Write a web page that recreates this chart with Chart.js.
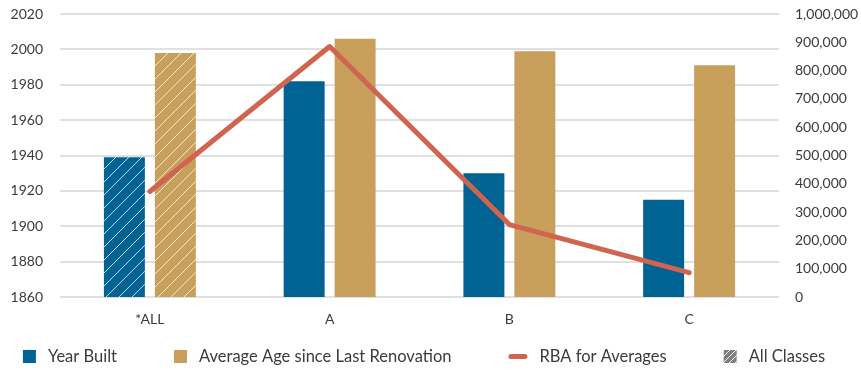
<!DOCTYPE html>
<html>
<head>
<meta charset="utf-8">
<script src="https://cdn.jsdelivr.net/npm/chart.js@4/dist/chart.umd.min.js"></script>
<style>
  html, body { margin: 0; padding: 0; background: #ffffff; }
  #wrap { width: 861px; height: 370px; position: relative; }
</style>
</head>
<body>
<div id="wrap"><canvas id="chart" width="861" height="370"></canvas></div>
<script>
// Categories and series
const categories = ['*ALL', 'A', 'B', 'C'];
const yearBuilt = [1939, 1982, 1930, 1915];
const renovationYear = [1998, 2006, 1999, 1991];
const rbaAverages = [373000, 885000, 256000, 86000];

// Series names
const seriesNames = ['Year Built', 'Average Age since Last Renovation', 'RBA for Averages', 'All Classes'];

const BLUE = '#006394';
const TAN = '#c8a05c';
const RED = '#d0644e';
const GREY = '#7f7f7f';
const TEXT = '#3b3b3b';
const FONT = 'Lato, "Open Sans", sans-serif';

// Diagonal white hatch on a base colour
function hatch(base, spacing, lineAlpha) {
  const c = document.createElement('canvas');
  c.width = spacing; c.height = spacing;
  const g = c.getContext('2d');
  g.fillStyle = base;
  g.fillRect(0, 0, spacing, spacing);
  g.strokeStyle = 'rgba(255,255,255,' + lineAlpha + ')';
  g.lineWidth = 1;
  g.beginPath();
  g.moveTo(0, spacing); g.lineTo(spacing, 0);
  g.moveTo(-2, 2); g.lineTo(2, -2);
  g.moveTo(spacing - 2, spacing + 2); g.lineTo(spacing + 2, spacing - 2);
  g.stroke();
  return g.createPattern(c, 'repeat');
}

const blueHatch = hatch(BLUE, 13, 0.75);
const tanHatch = hatch(TAN, 13, 0.75);
const greyHatch = hatch(GREY, 6, 0.9);

// First category (all classes) is hatched
const blueFills = categories.map((c, i) => i === 0 ? blueHatch : BLUE);
const tanFills = categories.map((c, i) => i === 0 ? tanHatch : TAN);

// Legend drawn under the plot
const bottomLegend = {
  id: 'bottomLegend',
  afterDraw(chart) {
    const ctx = chart.ctx;
    const items = [
      { text: seriesNames[0], kind: 'box', fill: BLUE },
      { text: seriesNames[1], kind: 'box', fill: TAN },
      { text: seriesNames[2], kind: 'line', fill: RED },
      { text: seriesNames[3], kind: 'box', fill: greyHatch }
    ];
    const gapMarker = 12, gapItem = 57, cy = 356.5;
    ctx.save();
    ctx.font = '16.5px ' + FONT;
    ctx.textBaseline = 'middle';
    ctx.textAlign = 'left';
    const widths = items.map(it => (it.kind === 'line' ? 19 : 13) + gapMarker + ctx.measureText(it.text).width);
    const total = widths.reduce((a, b) => a + b, 0) + gapItem * (items.length - 1);
    let x = 424 - total / 2;
    items.forEach((it, i) => {
      if (it.kind === 'line') {
        ctx.strokeStyle = it.fill;
        ctx.lineWidth = 5;
        ctx.lineCap = 'round';
        ctx.beginPath();
        ctx.moveTo(x + 2.5, cy);
        ctx.lineTo(x + 16.5, cy);
        ctx.stroke();
        x += 19;
      } else {
        ctx.fillStyle = it.fill;
        ctx.fillRect(x, cy - 6.5, 13, 13);
        x += 13;
      }
      x += gapMarker;
      ctx.fillStyle = TEXT;
      ctx.fillText(it.text, x, cy);
      x += ctx.measureText(it.text).width + gapItem;
    });
    ctx.restore();
  }
};

// Vertical axes: fixed width, no extra space reserved for end labels
function fixAxis(width) {
  return s => {
    s.width = width;
    s.paddingTop = 0;
    s.paddingBottom = 0;
  };
}

new Chart(document.getElementById('chart'), {
  type: 'bar',
  data: {
    labels: categories,
    datasets: [
      {
        type: 'line',
        label: seriesNames[2],
        data: rbaAverages,
        yAxisID: 'y1',
        borderColor: RED,
        backgroundColor: RED,
        borderWidth: 5,
        borderCapStyle: 'round',
        borderJoinStyle: 'round',
        pointRadius: 0,
        tension: 0,
        order: 0
      },
      {
        label: seriesNames[0],
        data: yearBuilt,
        yAxisID: 'y',
        backgroundColor: blueFills,
        categoryPercentage: 0.567,
        barPercentage: 0.804,
        order: 1
      },
      {
        label: seriesNames[1],
        data: renovationYear,
        yAxisID: 'y',
        backgroundColor: tanFills,
        categoryPercentage: 0.567,
        barPercentage: 0.804,
        order: 1
      }
    ]
  },
  options: {
    responsive: false,
    animation: false,
    events: [],
    layout: { padding: { top: 14, bottom: 33, left: 0, right: 0 } },
    plugins: {
      legend: { display: false },
      tooltip: { enabled: false }
    },
    scales: {
      x: {
        grid: { display: false },
        border: { display: false },
        ticks: { color: TEXT, font: { family: FONT, size: 14 }, padding: 6 },
        afterFit(s) { s.height = 40; s.paddingLeft = 0; s.paddingRight = 0; }
      },
      y: {
        position: 'left',
        min: 1860,
        max: 2020,
        ticks: {
          stepSize: 20,
          color: TEXT,
          font: { family: FONT, size: 14 },
          padding: 17,
          callback: v => String(v)
        },
        grid: { color: '#e0e0e0', lineWidth: 2, drawTicks: false },
        border: { display: false },
        afterFit: fixAxis(60)
      },
      y1: {
        position: 'right',
        min: 0,
        max: 1000000,
        ticks: {
          stepSize: 100000,
          color: TEXT,
          font: { family: FONT, size: 14 },
          padding: 16,
          callback: v => v.toLocaleString('en-US')
        },
        grid: { display: false, drawTicks: false },
        border: { display: false },
        afterFit: fixAxis(82)
      }
    }
  },
  plugins: [bottomLegend]
});
</script>
</body>
</html>
